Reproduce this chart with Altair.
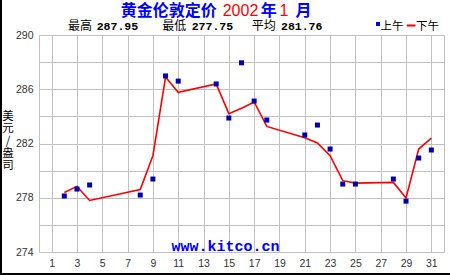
import altair as alt
import pandas as pd

# ---- data ----
days = [2, 3, 4, 8, 9, 10, 11, 14, 15, 16, 17, 18, 21, 22, 23, 24, 25, 28, 29, 30, 31]
am_fix = [278.13, 278.64, 278.94, 278.20, 279.38, 286.98, 286.60, 286.39, 283.88, 287.95,
          285.13, 283.73, 282.63, 283.36, 281.59, 279.01, 279.01, 279.38, 277.75, 280.93, 281.52]
pm_fix = [278.39, 278.84, 277.80, 278.61, 281.10, 286.90, 285.77, 286.39, 284.20, 284.60,
          285.06, 283.26, 282.43, 282.04, 281.10, 279.26, 279.08, 279.13, 277.98, 281.59, 282.40]
x_ticks = list(range(1, 32, 2))
y_grid = list(range(274, 291, 2))
stat_names = ["最高", "最低", "平均"]
stat_values = ["287.95", "277.75", "281.76"]
title_parts = ["黄金伦敦定价", "2002", "年", "1", "月"]
legend_names = ["上午", "下午"]
y_title_chars = ["美", "元", "/", "盎", "司"]
watermark = "www.kitco.cn"

df = pd.DataFrame({"day": days, "am": am_fix, "pm": pm_fix})

W, H = 405, 217
CJK = "Noto Sans CJK SC"
BLUE = "#0000ff"
RED = "#ff0000"

xs = alt.X("day:Q", scale=alt.Scale(domain=[0, 32], nice=False, zero=False),
           axis=alt.Axis(values=x_ticks, tickCount=100, format="d", title=None,
                         labelPadding=6, labelOverlap=False))
ys_axis = alt.Axis(values=y_grid, tickCount=100, format="d", title=None, labelPadding=6,
                   labelOverlap=False,
                   labelExpr="datum.value % 4 == 2 ? datum.label : ''")
yscale = alt.Scale(domain=[274, 290], nice=False, zero=False)

base = alt.Chart(df)
line = base.mark_line(color=RED, strokeWidth=1.6).encode(
    x=xs, y=alt.Y("pm:Q", scale=yscale, axis=ys_axis))
squares = base.mark_square(color="#0000b0", size=25, opacity=1, filled=True).encode(
    x="day:Q", y="am:Q")


def txt(text, x, y, color="black", font=CJK, size=12, bold=False, align="left",
        baseline="alphabetic", **kw):
    return alt.Chart(alt.Data(values=[{"t": text}])).mark_text(
        align=align, baseline=baseline, color=color, font=font, fontSize=size,
        fontWeight="bold" if bold else "normal", **kw
    ).encode(x=alt.value(x), y=alt.value(y), text="t:N")


layers = [line, squares]

# title (Chinese bold, digits regular)
tcol = [BLUE, RED, BLUE, RED, BLUE]
tx = [81.7, 183.7, 221.7, 240.5, 256.5]
tfont = [CJK, "Liberation Sans", CJK, "Liberation Sans", CJK]
tbold = [True, False, True, False, True]
for t, c, x0, f, b in zip(title_parts, tcol, tx, tfont, tbold):
    layers.append(txt(t, x0, -19.5, color=c, font=f, size=16, bold=b))

# stats row
name_x = [29, 123.3, 212.7]
val_x = [57.7, 152.7, 242]
for n, v, nx, vx in zip(stat_names, stat_values, name_x, val_x):
    layers.append(txt(n, nx, -5.5, size=12))
    layers.append(txt(v, vx, -5.5, font="Liberation Mono", size=11.5, bold=True))

# legend
leg_sq = alt.Chart(alt.Data(values=[{"k": 0}])).mark_square(
    color="#0000ff", size=16, opacity=1, filled=True).encode(x=alt.value(339), y=alt.value(-11))
leg_line = alt.Chart(alt.Data(values=[{"k": 0}])).mark_rule(
    color=RED, strokeWidth=2).encode(x=alt.value(367.7), x2=alt.value(376.5), y=alt.value(-9.5))
layers += [leg_sq, txt(legend_names[0], 341.5, -5.5, size=11.5),
           leg_line, txt(legend_names[1], 377, -5.5, size=11.5)]

# y title (stacked characters)
for i, ch in enumerate(y_title_chars):
    layers.append(txt(ch, -31, 82 + 12.3 * i, size=11.5, align="center", baseline="middle"))

# watermark
layers.append(txt(watermark, 186.5, 215.5, color=BLUE, font="Liberation Mono",
                  size=15, bold=True, align="center"))

# outer dark edges (left and bottom)
edge_l = alt.Chart(alt.Data(values=[{"k": 0}])).mark_rule(color="black", strokeWidth=2).encode(
    x=alt.value(-38), y=alt.value(-35), y2=alt.value(240))
edge_b = alt.Chart(alt.Data(values=[{"k": 0}])).mark_rule(color="black", strokeWidth=2).encode(
    x=alt.value(-39), x2=alt.value(411), y=alt.value(239))
layers += [edge_l, edge_b]

chart = alt.layer(*layers).properties(
    width=W, height=H,
    autosize=alt.AutoSizeParams(type="none"),
    padding={"left": 39, "top": 35, "right": 6, "bottom": 23},
    background="white",
).configure_view(
    stroke="#c0c0c0", strokeWidth=1
).configure_axis(
    domain=False, ticks=False, grid=True, gridColor="#c0c0c0", gridWidth=1,
    labelColor="#333333", labelFont="Liberation Sans", labelFontSize=10.5,
)

chart.save("out.html", embed_options={"renderer": "svg", "actions": False})
